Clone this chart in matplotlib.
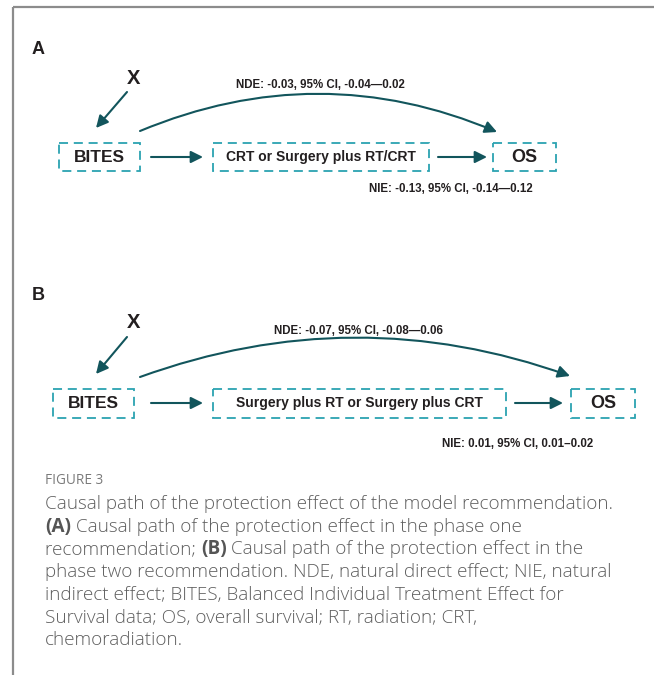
import matplotlib
matplotlib.use("Agg")
import matplotlib.pyplot as plt
from matplotlib.patches import Rectangle, FancyArrowPatch

# node / effect labels for the two causal-path panels
panel_tags = ["A", "B"]
exposure = "BITES"
mediators = ["CRT or Surgery plus RT/CRT", "Surgery plus RT or Surgery plus CRT"]
outcome = "OS"
confounder = "X"
nde_labels = ["NDE: -0.03, 95% CI, -0.04\u20140.02", "NDE: -0.07, 95% CI, -0.08\u20140.06"]
nie_labels = ["NIE: -0.13, 95% CI, -0.14\u20140.12", "NIE: 0.01, 95% CI, 0.01\u20130.02"]

caption_head = "FIGURE 3"
caption_lines = [
    [("Causal path of the protection effect of the model recommendation.", False)],
    [("(A)", True), (" Causal path of the protection effect in the phase one", False)],
    [("recommendation; ", False), ("(B)", True), (" Causal path of the protection effect in the", False)],
    [("phase two recommendation. NDE, natural direct effect; NIE, natural", False)],
    [("indirect effect; BITES, Balanced Individual Treatment Effect for", False)],
    [("Survival data; OS, overall survival; RT, radiation; CRT,", False)],
    [("chemoradiation.", False)],
]

W, H = 654, 675
ARROW = "#12555c"
DASH = "#2ba3b1"
INK = "#231f20"
DIAG_FONT = ["Liberation Sans", "DejaVu Sans"]
CAP_FONT = ["Open Sans", "DejaVu Sans"]

# pixel layout for each panel: y of the box row, box extents, label positions
layout = [
    dict(tag_y=50, x_y=78, row=157, half=14,
         bites=(59, 140), mid=(213, 429), os_box=(493, 556),
         xarr=((127, 92), (96, 128)),
         arr1=(151, 203), arr2=(438, 487),
         curve=((140, 131), (497, 132)), rad=-0.21,
         nde=(320, 85), nie=(451, 189)),
    dict(tag_y=296, x_y=323, row=403, half=14.5,
         bites=(53, 134), mid=(213, 506), os_box=(571, 635),
         xarr=((127, 337), (96, 374)),
         arr1=(151, 203), arr2=(515, 563),
         curve=((140, 377), (570, 376)), rad=-0.18,
         nde=(358, 331), nie=(518, 444)),
]

fig = plt.figure(figsize=(W / 100, H / 100), dpi=100)
ax = fig.add_axes([0, 0, 1, 1])
ax.set_xlim(0, W)
ax.set_ylim(H, 0)
ax.axis("off")

# frame lines (top and left)
ax.plot([13, W], [7, 7], color="#8c8c8c", lw=1.6, solid_capstyle="butt")
ax.plot([13, 13], [7, H], color="#8c8c8c", lw=1.6, solid_capstyle="butt")


def dashed_box(x0, x1, yc, half):
    ax.add_patch(Rectangle((x0, yc - half), x1 - x0, 2 * half, fill=False,
                           ec=DASH, lw=1.3, ls=(0, (5, 3.2))))


def arrow(p0, p1, rad=0.0):
    ax.add_patch(FancyArrowPatch(p0, p1, arrowstyle="-|>", mutation_scale=18,
                                 connectionstyle=f"arc3,rad={rad}",
                                 color=ARROW, lw=1.5, shrinkA=0, shrinkB=0))


for i, lay in enumerate(layout):
    yc = lay["row"]
    ax.text(32, lay["tag_y"], panel_tags[i], fontsize=13, fontweight="bold",
            family=DIAG_FONT, color=INK, va="center", ha="left")
    ax.text(134, lay["x_y"], confounder, fontsize=14.5, fontweight="bold",
            family=DIAG_FONT, color=INK, va="center", ha="center")
    arrow(*lay["xarr"])

    for (x0, x1), label, fs in [(lay["bites"], exposure, 12.5),
                                (lay["mid"], mediators[i], 10),
                                (lay["os_box"], outcome, 13)]:
        dashed_box(x0, x1, yc, lay["half"])
        ax.text((x0 + x1) / 2, yc + 0.5, label, fontsize=fs, fontweight="bold",
                family=DIAG_FONT, color=INK, va="center", ha="center")

    arrow((lay["arr1"][0], yc), (lay["arr1"][1], yc))
    arrow((lay["arr2"][0], yc), (lay["arr2"][1], yc))
    arrow(*lay["curve"], rad=lay["rad"])

    ax.text(*lay["nde"], nde_labels[i], fontsize=8.3, fontweight="bold",
            family=DIAG_FONT, color=INK, va="center", ha="center")
    ax.text(*lay["nie"], nie_labels[i], fontsize=8.3, fontweight="bold",
            family=DIAG_FONT, color=INK, va="center", ha="center")

# caption
ax.text(45, 480, caption_head, fontsize=9.8, family=CAP_FONT, weight="normal",
        color="#7a7a7a", va="center", ha="left")

fig.canvas.draw()
renderer = fig.canvas.get_renderer()
inv = ax.transData.inverted()

# size the caption so its first line runs to the right margin
probe = ax.text(0, 0, caption_lines[0][0][0], fontsize=10, family=CAP_FONT,
                weight="light")
pw = probe.get_window_extent(renderer=renderer).width
probe.remove()
cap_fs = 10 * 564 / pw

line_y = 504
for parts in caption_lines:
    x = 45
    for txt, bold in parts:
        t = ax.text(x, line_y, txt, fontsize=cap_fs, family=CAP_FONT,
                    fontweight="bold" if bold else "light",
                    color="#555555" if bold else "#5e5e5e", va="center", ha="left")
        bb = t.get_window_extent(renderer=renderer)
        x = inv.transform((bb.x1, bb.y0))[0]
    line_y += 22.7

fig.savefig("out.png", dpi=100)
